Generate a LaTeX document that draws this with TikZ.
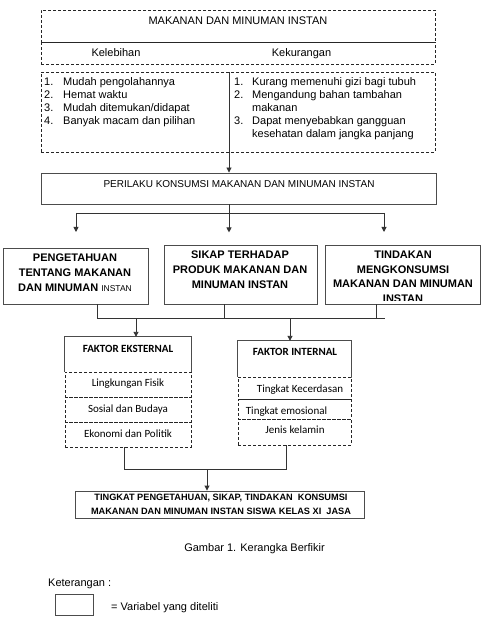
\documentclass[tikz,border=0pt]{standalone}
\usepackage{fontspec}
\setmainfont{Liberation Sans}
\newfontfamily\carl{Carlito}
\usetikzlibrary{arrows.meta,calc}
\begin{document}
\begin{tikzpicture}[x=1pt,y=-1pt,
  solidbox/.style={draw=black!70,line width=0.9pt,inner sep=0pt},
  dashbox/.style={draw=black!85,line width=0.9pt,dash pattern=on 3pt off 2pt,inner sep=0pt},
  plain/.style={inner sep=0pt},
  lnk/.style={draw=black!80,line width=0.9pt},
  arr/.style={lnk,-{Triangle[length=5pt,width=5pt]}},
  f11/.style={font=\fontsize{11}{13}\selectfont},
  f10/.style={font=\fontsize{10}{12}\selectfont},
  bbig/.style={font=\bfseries\fontsize{11}{15}\selectfont,align=center,inner sep=0pt},
  ctitle/.style={font=\carl\bfseries\fontsize{11}{13}\selectfont,inner sep=0pt},
  crow/.style={font=\carl\fontsize{11}{13}\selectfont,inner sep=0pt},
]
\useasboundingbox (0,0) rectangle (481,617);

% top dashed boxes
\node[dashbox,minimum width=394pt,minimum height=32pt] (head) at (238,26) {};
\node[plain,f11,anchor=base] (headt) at (238,25) {MAKANAN DAN MINUMAN INSTAN};
\node[dashbox,minimum width=394pt,minimum height=22pt] (sub) at (238,53) {};
\node[plain,f11,anchor=base] (kel) at (116,57) {Kelebihan};
\node[plain,f11,anchor=base] (kek) at (301.5,57) {Kekurangan};
\node[dashbox,minimum width=394pt,minimum height=80pt] (lst) at (238,112) {};
\node[plain,f11,anchor=base west] (kl) at (44,86) {\begin{tabular}[t]{@{}l@{}}
\makebox[19pt][l]{1.}Mudah pengolahannya\\
\makebox[19pt][l]{2.}Hemat waktu\\
\makebox[19pt][l]{3.}Mudah ditemukan/didapat\\
\makebox[19pt][l]{4.}Banyak macam dan pilihan
\end{tabular}};
\node[plain,f11,anchor=base west] (kr) at (234,86) {\begin{tabular}[t]{@{}l@{}}
\makebox[18pt][l]{1.}Kurang memenuhi gizi bagi tubuh\\
\makebox[18pt][l]{2.}Mengandung bahan tambahan\\
\makebox[18pt][l]{}makanan\\
\makebox[18pt][l]{3.}Dapat menyebabkan gangguan\\
\makebox[18pt][l]{}kesehatan dalam jangka panjang
\end{tabular}};

% perilaku
\node[solidbox,minimum width=395pt,minimum height=31pt] (per) at (238.5,188.5) {};
\node[plain,f10,anchor=base] (pert) at (239,187.6) {PERILAKU KONSUMSI MAKANAN DAN MINUMAN INSTAN};
\coordinate (dv) at (229,72);
\draw[arr] (dv) -- (dv |- per.north);

% three boxes
\node[solidbox,minimum width=145pt,minimum height=56pt] (p1) at (75.5,276) {};
\node[bbig] (p1t) at (75,273) {PENGETAHUAN\\TENTANG MAKANAN\\DAN MINUMAN {\mdseries\fontsize{8.5}{15}\selectfont INSTAN}};
\node[solidbox,minimum width=153pt,minimum height=59pt] (p2) at (240.5,274.5) {};
\node[bbig] (p2t) at (240,270) {SIKAP TERHADAP\\PRODUK MAKANAN DAN\\MINUMAN INSTAN};
\node[solidbox,minimum width=155pt,minimum height=59pt] (p3) at (402.5,274.5) {};
\begin{scope}
\clip (320,240) rectangle (481,300.5);
\node[bbig,font=\bfseries\fontsize{11}{14.5}\selectfont] (p3t) at (403,276.75) {TINDAKAN\\MENGKONSUMSI\\MAKANAN DAN MINUMAN\\INSTAN};
\end{scope}

\coordinate (pc) at (per.south -| dv);
\coordinate (hl) at (76,213);
\coordinate (hr) at (384,213);
\draw[arr] (pc) -- ++(0,28);
\draw[lnk] (hl) -- (hr);
\draw[arr] (hl) -- ++(0,19);
\draw[arr] (hr) -- ++(0,19);

% join below three boxes
\coordinate (jl) at (97,318);
\coordinate (jr) at (385,318);
\coordinate (d2) at (224,318);
\coordinate (d3) at (376,318);
\draw[lnk] (jl) -- (jr);
\draw[lnk] (jl) -- (jl |- p1.south);
\draw[lnk] (d2) -- (d2 |- p2.south);
\draw[lnk] (d3) -- (d3 |- p3.south);

% faktor eksternal
\node[plain,minimum width=126pt,minimum height=35pt] (ekst) at (128,354.5) {};
\draw[solidbox] (ekst.south west) -- (ekst.north west) -- (ekst.north east) -- (ekst.south east);
\node[ctitle,anchor=base] (ekstt) at (128,352) {FAKTOR EKSTERNAL};
\node[dashbox,minimum width=126pt,minimum height=25pt] (er1) at (128,384.5) {};
\node[dashbox,minimum width=126pt,minimum height=25pt] (er2) at (128,409.5) {};
\node[dashbox,minimum width=126pt,minimum height=25pt] (er3) at (128,434.5) {};
\node[crow,anchor=base] (er1t) at (128,386.5) {Lingkungan Fisik};
\node[crow,anchor=base] (er2t) at (128,412.5) {Sosial dan Budaya};
\node[crow,anchor=base] (er3t) at (128,437.5) {Ekonomi dan Politik};

% faktor internal
\node[plain,minimum width=113pt,minimum height=36pt] (intl) at (294.5,359) {};
\draw[solidbox] (intl.south west) -- (intl.north west) -- (intl.north east) -- (intl.south east);
\node[ctitle,anchor=base] (intlt) at (295,355.5) {FAKTOR INTERNAL};
\node[dashbox,minimum width=113pt,minimum height=22pt] (ir1) at (294.5,388) {};
\node[dashbox,minimum width=113pt,minimum height=20pt] (ir2) at (294.5,409) {};
\node[dashbox,minimum width=113pt,minimum height=26pt] (ir3) at (294.5,432) {};
\node[crow,anchor=base] (ir1t) at (300,392.5) {Tingkat Kecerdasan};
\node[crow,anchor=base] (ir2t) at (286.5,414.5) {Tingkat emosional};
\node[crow,anchor=base] (ir3t) at (295,433.5) {Jenis kelamin};

\coordinate (e1) at (136,318);
\coordinate (e2) at (290,318);
\draw[arr] (e1) -- (e1 |- ekst.north);
\draw[arr] (e2) -- (e2 |- intl.north);

% final
\node[solidbox,minimum width=289pt,minimum height=27pt] (ting) at (219.5,504.5) {};
\node[plain,align=center,font=\bfseries\fontsize{9.2}{14}\selectfont] (tingt) at (221,504) {TINGKAT PENGETAHUAN, SIKAP, TINDAKAN\ \ KONSUMSI\\MAKANAN DAN MINUMAN INSTAN SISWA KELAS XI\ \ JASA};
\coordinate (m1) at (124,469);
\coordinate (m2) at (286,469);
\coordinate (m0) at (207,469);
\draw[lnk] (m1 |- er3.south) -- (m1) -- (m2) -- (m2 |- ir3.south);
\draw[arr] (m0) -- (m0 |- ting.north);

% caption and legend
\node[plain,f11,anchor=base] (cap) at (254.5,551) {Gambar 1. Kerangka Berfikir};
\node[plain,f11,anchor=base west] (ket) at (48,586) {Keterangan :};
\node[solidbox,minimum width=38pt,minimum height=21pt] (leg) at (74,604.5) {};
\node[plain,f11,anchor=base west] (legt) at (111,610) {= Variabel yang diteliti};
\end{tikzpicture}
\end{document}
